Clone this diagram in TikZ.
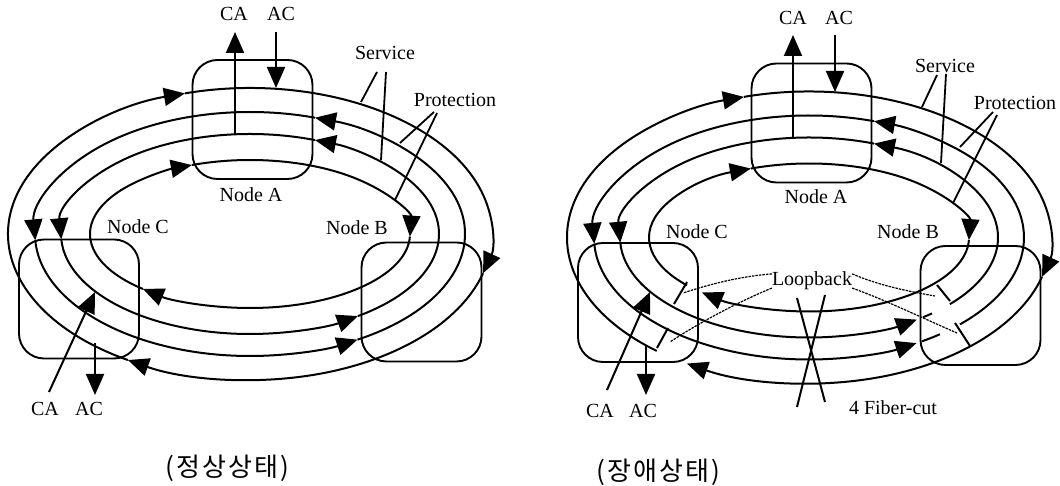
\documentclass[tikz,border=0pt]{standalone}
\usepackage{fontspec}
\setmainfont{Liberation Serif}
\newfontfamily\krfont[LetterSpace=8]{Noto Sans CJK KR}
\usetikzlibrary{arrows.meta}
\tikzset{
  ringline/.style={line width=2pt},
  tip/.style={-{Triangle[length=21pt,width=18pt]}},
  thinline/.style={line width=1.8pt},
  loopline/.style={line width=1.2pt,dash pattern=on 2.5pt off 1pt},
  nodebox/.style={draw,line width=1.9pt,rounded corners=25pt,minimum width=120pt,minimum height=119pt,inner sep=0pt},
  lbl/.style={inner sep=0pt,font=\fontsize{20}{24}\selectfont},
  caption/.style={inner sep=0pt,font=\krfont\fontsize{26}{30}\selectfont}
}
\newcommand{\ringarc}[5][]{\draw[ringline,#1] ([shift={(#4:#2 and #3)}]250,252) arc (#4:#5:#2 and #3);}
\begin{document}
\begin{tikzpicture}[x=1pt,y=1pt]
\useasboundingbox (0,0) rectangle (1060,486);
% normal state
\node[nodebox] (nodeAl) at (252.5,366.5) {};
\node[nodebox] (nodeCl) at (79,187) {};
\node[nodebox] (nodeBl) at (421.5,184) {};
\ringarc[tip]{242}{146}{-120.3}{-254.4}
\ringarc[tip]{242}{146}{105.6}{-15.6}
\ringarc[tip]{242}{146}{-15.6}{-120.3}
\ringarc[tip]{215}{122}{-60}{72.4}
\ringarc[tip]{215}{122}{72.4}{183}
\ringarc[tip]{215}{122}{183}{300}
\ringarc[tip]{189}{100}{-55.2}{69.9}
\ringarc[tip]{189}{100}{69.9}{183}
\ringarc[tip]{189}{100}{183}{304.8}
\ringarc[tip]{160}{74}{-132}{-248.7}
\ringarc[tip]{160}{74}{111.3}{-2}
\ringarc[tip]{160}{74}{-2}{-132}
\node[lbl] (caTl) at (234,472) {CA};
\node[lbl] (acTl) at (281,472) {AC};
\node[lbl] (caBl) at (45,77) {CA};
\node[lbl] (acBl) at (89,77) {AC};
\node[lbl] (labAl) at (251,291) {Node A};
\node[lbl] (labCl) at (138,259) {Node C};
\node[lbl] (labBl) at (357,258) {Node B};
\node[lbl] (servl) at (385,433) {Service};
\node[lbl] (protl) at (455,386) {Protection};
\node[caption] (capl) at (227,18) {(정상상태)};
\coordinate (a1) at (235,352);
\coordinate (a2) at (235,454);
\coordinate (a3) at (276,454);
\coordinate (a4) at (276,398);
\coordinate (a5) at (49,94);
\coordinate (a6) at (95,194);
\coordinate (a7) at (95,143);
\coordinate (a8) at (95,91);
\draw[ringline,tip] (a1) -- (a2);
\draw[ringline,tip] (a3) -- (a4);
\draw[ringline,tip] (a5) -- (a6);
\draw[ringline,tip] (a7) -- (a8);
\coordinate (s1) at (377,414);
\coordinate (s2) at (361,384);
\coordinate (s3) at (386,414);
\coordinate (s4) at (381,326);
\coordinate (p1) at (434,374);
\coordinate (p2) at (400,343);
\coordinate (p3) at (437,373);
\coordinate (p4) at (395,286);
\draw[thinline] (s1) -- (s2);
\draw[thinline] (s3) -- (s4);
\draw[thinline] (p1) -- (p2);
\draw[thinline] (p3) -- (p4);
% failure state
\begin{scope}[shift={(559,-3.5)}]
\node[nodebox] (nodeAr) at (252.5,366.5) {};
\node[nodebox] (nodeCr) at (79,187) {};
\node[nodebox] (nodeBr) at (421.5,184) {};
\ringarc[tip]{242}{146}{-129}{-254.4}
\ringarc[tip]{242}{146}{105.6}{-15.6}
\ringarc[tip]{242}{146}{-15.6}{-120.3}
\ringarc[tip]{215}{122}{-45.4}{72.4}
\ringarc[tip]{215}{122}{72.4}{183}
\ringarc[tip]{215}{122}{183}{300}
\ringarc{215}{122}{-58.3}{-52.5}
\ringarc[tip]{189}{100}{-41.8}{69.9}
\ringarc[tip]{189}{100}{69.9}{183}
\ringarc[tip]{189}{100}{183}{304.8}
\ringarc{189}{100}{-52.9}{-49.4}
\ringarc[tip]{160}{74}{-139.7}{-248.7}
\ringarc[tip]{160}{74}{111.3}{-2}
\ringarc[tip]{160}{74}{-2}{-132}
\node[lbl] (caTr) at (234,471.5) {CA};
\node[lbl] (acTr) at (280,471.5) {AC};
\node[lbl] (caBr) at (41,78.5) {CA};
\node[lbl] (acBr) at (84,78.5) {AC};
\node[lbl] (labAr) at (257,292.5) {Node A};
\node[lbl] (labCr) at (138,257.5) {Node C};
\node[lbl] (labBr) at (349,257.5) {Node B};
\node[lbl] (servr) at (386,423.5) {Service};
\node[lbl] (protr) at (456,386.5) {Protection};
\node[lbl] (loopr) at (253,208.5) {Loopback};
\node[lbl] (cutr) at (334,81.5) {4 Fiber-cut};
\node[caption] (capr) at (99,17.5) {(장애상태)};
\coordinate (b1) at (234,352.5);
\coordinate (b2) at (234,454.5);
\coordinate (b3) at (276,454.5);
\coordinate (b4) at (276,397.5);
\coordinate (b5) at (48,99.5);
\coordinate (b6) at (91,197.5);
\coordinate (b7) at (87,144.5);
\coordinate (b8) at (87,94.5);
\draw[ringline,tip] (b1) -- (b2);
\draw[ringline,tip] (b3) -- (b4);
\draw[ringline,tip] (b5) -- (b6);
\draw[ringline,tip] (b7) -- (b8);
\coordinate (t1) at (378,414.5);
\coordinate (t2) at (363,382.5);
\coordinate (t3) at (387,415.5);
\coordinate (t4) at (382,326.5);
\coordinate (q1) at (434,377.5);
\coordinate (q2) at (401,342.5);
\coordinate (q3) at (438,374.5);
\coordinate (q4) at (394,286.5);
\draw[thinline] (t1) -- (t2);
\draw[thinline] (t3) -- (t4);
\draw[thinline] (q1) -- (q2);
\draw[thinline] (q3) -- (q4);
% loop joints
\coordinate (j1) at (128,207.5);
\coordinate (j2) at (115,185.5);
\coordinate (j3) at (98,141.5);
\coordinate (j4) at (109,161.5);
\coordinate (j5) at (391,188.5);
\coordinate (j6) at (378,204.5);
\coordinate (j7) at (396,166.5);
\coordinate (j8) at (411,143.5);
\draw[ringline] (j1) -- (j2);
\draw[ringline] (j3) -- (j4);
\draw[ringline] (j5) -- (j6);
\draw[ringline] (j7) -- (j8);
% cut
\coordinate (x1) at (238,191.5);
\coordinate (x2) at (266,87.5);
\coordinate (x3) at (266,194.5);
\coordinate (x4) at (238,82.5);
\draw[ringline] (x1) -- (x2);
\draw[ringline] (x3) -- (x4);
% loopback
\draw[loopline] (loopr.170) .. controls (180,213) and (150,205) .. (124,196.5);
\draw[loopline] (loopr.190) .. controls (185,190) and (145,170) .. (111,147.5);
\draw[loopline] (loopr.10) .. controls (320,204) and (350,198) .. (376,193.5);
\draw[loopline] (loopr.350) .. controls (325,190) and (360,173) .. (398,156.5);
\end{scope}
\end{tikzpicture}
\end{document}
